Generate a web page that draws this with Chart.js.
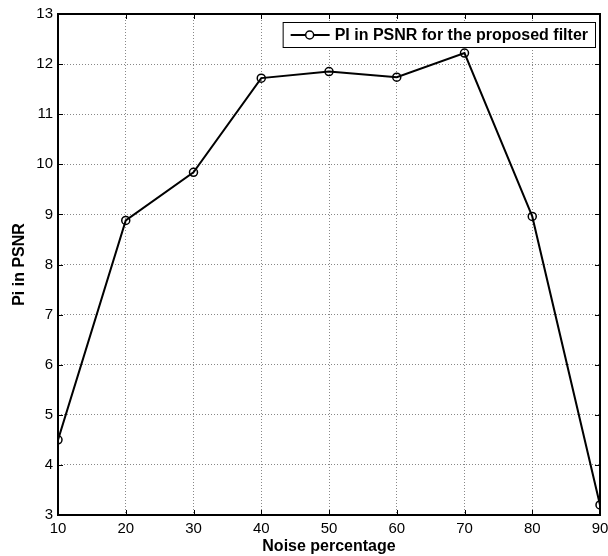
<!DOCTYPE html>
<html>
<head>
<meta charset="utf-8">
<script src="https://cdn.jsdelivr.net/npm/chart.js@4.4.0/dist/chart.umd.min.js"></script>
<style>
  html, body { margin: 0; padding: 0; background: #fff; }
  #wrap { width: 608px; height: 556px; }
</style>
</head>
<body>
<div id="wrap"><canvas id="piChart" width="608" height="556"></canvas></div>
<script>
const noiseLevels = [10, 20, 30, 40, 50, 60, 70, 80, 90];
const piValues = [4.5, 8.88, 9.84, 11.72, 11.85, 11.74, 12.22, 8.96, 3.2];
const seriesLabel = "PI in PSNR for the proposed filter";
const xTitle = "Noise percentage";
const yTitle = "Pi in PSNR";

const FONT = "'Liberation Sans', Arial, sans-serif";

// box, inner tick marks and legend, MATLAB style
const matlabBox = {
  id: "matlabBox",
  afterDatasetsDraw(chart) {
    const { ctx, chartArea: a, scales } = chart;
    ctx.save();
    ctx.strokeStyle = "#000";
    ctx.lineWidth = 1;
    const tl = 5;
    ctx.beginPath();
    scales.x.ticks.forEach((t) => {
      const px = Math.round(scales.x.getPixelForValue(t.value)) + 0.5;
      ctx.moveTo(px, a.bottom); ctx.lineTo(px, a.bottom - tl);
      ctx.moveTo(px, a.top); ctx.lineTo(px, a.top + tl);
    });
    scales.y.ticks.forEach((t) => {
      const py = Math.round(scales.y.getPixelForValue(t.value)) + 0.5;
      ctx.moveTo(a.left, py); ctx.lineTo(a.left + tl, py);
      ctx.moveTo(a.right, py); ctx.lineTo(a.right - tl, py);
    });
    ctx.stroke();
    ctx.lineWidth = 2;
    ctx.strokeRect(a.left, a.top, a.right - a.left, a.bottom - a.top);

    // legend
    ctx.font = "bold 16px " + FONT;
    const tw = ctx.measureText(seriesLabel).width;
    const bw = tw + 59;
    const bh = 25;
    const bx = a.right - 5 - bw;
    const by = a.top + 8;
    ctx.fillStyle = "#fff";
    ctx.fillRect(bx, by, bw, bh);
    ctx.lineWidth = 1;
    ctx.strokeRect(bx + 0.5, by + 0.5, bw, bh);
    const cy = by + bh / 2 + 0.5;
    ctx.lineWidth = 2;
    ctx.beginPath();
    ctx.moveTo(bx + 8, cy); ctx.lineTo(bx + 47, cy);
    ctx.stroke();
    ctx.beginPath();
    ctx.arc(bx + 27, cy, 4, 0, Math.PI * 2);
    ctx.fillStyle = "#fff";
    ctx.fill();
    ctx.lineWidth = 1.5;
    ctx.stroke();
    ctx.fillStyle = "#000";
    ctx.textBaseline = "middle";
    ctx.fillText(seriesLabel, bx + 52, cy + 1);
    ctx.restore();
  }
};

new Chart(document.getElementById("piChart").getContext("2d"), {
  type: "line",
  data: {
    datasets: [{
      label: seriesLabel,
      data: noiseLevels.map((x, i) => ({ x, y: piValues[i] })),
      borderColor: "#000",
      borderWidth: 2,
      pointRadius: 4,
      pointBorderWidth: 1.5,
      pointBackgroundColor: "rgba(255,255,255,0)",
      pointBorderColor: "#000",
      tension: 0,
      fill: false
    }]
  },
  options: {
    responsive: false,
    animation: false,
    events: [],
    layout: { padding: { top: 14, right: 8, left: 0, bottom: 0 } },
    plugins: { legend: { display: false }, tooltip: { enabled: false } },
    scales: {
      x: {
        type: "linear",
        min: 10, max: 90,
        ticks: { stepSize: 10, color: "#000", padding: 5, maxRotation: 0, font: { family: FONT, size: 15 } },
        grid: { color: "#888", borderDash: [1, 2], drawTicks: false, tickLength: 0 },
        border: { display: false, dash: [1, 2] },
        title: { display: true, text: xTitle, color: "#000", padding: { top: 0, bottom: 0 }, font: { family: FONT, size: 16, weight: "bold" } },
        afterFit(s) { s.height = 41; s.paddingLeft = 0; s.paddingRight = 0; }
      },
      y: {
        min: 3, max: 13,
        ticks: { stepSize: 1, color: "#000", padding: 5, font: { family: FONT, size: 15 } },
        grid: { color: "#888", drawTicks: false, tickLength: 0 },
        border: { display: false, dash: [1, 2] },
        title: { display: true, text: yTitle, color: "#000", padding: { top: 10, bottom: 4 }, font: { family: FONT, size: 16, weight: "bold" } },
        afterFit(s) { s.width = 58; s.paddingTop = 0; s.paddingBottom = 0; }
      }
    }
  },
  plugins: [matlabBox]
});
</script>
</body>
</html>
